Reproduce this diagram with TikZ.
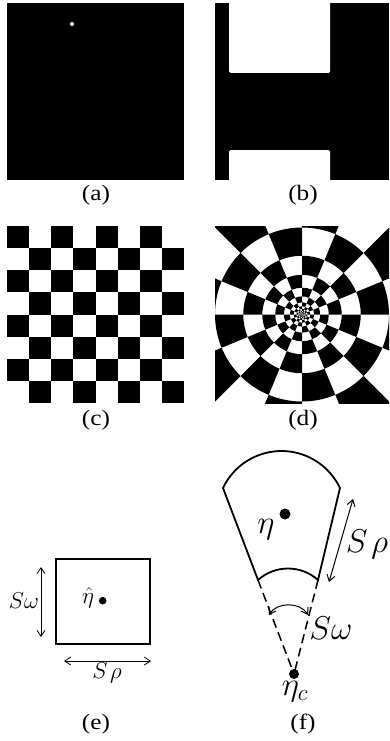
\RequirePackage{fix-cm}
\documentclass[tikz,border=0pt]{standalone}
\usepackage[no-math]{fontspec}
\setmainfont{Liberation Serif}
\usetikzlibrary{arrows.meta}
\newcommand{\widelab}[1]{\scalebox{1.15}[1]{#1}}
\begin{document}
\begin{tikzpicture}[x=1pt,y=1pt,
  lab/.style={inner sep=0pt,font=\fontsize{22}{25}\selectfont},
  mathE/.style={inner sep=0pt,font=\fontsize{23}{26}\selectfont},
  mathF/.style={inner sep=0pt,font=\fontsize{33}{36}\selectfont},
  dimarrow/.style={line width=0.8pt,{Straight Barb[length=6pt,width=8pt]}-{Straight Barb[length=6pt,width=8pt]}},
  solidF/.style={line width=1.8pt,line join=miter},
  dashF/.style={line width=1.5pt,dash pattern=on 9pt off 5pt}]
\useasboundingbox (0,0) rectangle (389,-741);

% (a)
\fill[black] (7,-3) rectangle (184,-180);
\fill[white] (72,-24) circle (2);
\node[lab] (la) at (96,-195.5) {\widelab{(a)}};

% (b)
\fill[black] (215,-3) rectangle (389,-180);
\fill[white,rounded corners=1.5pt] (229,0) rectangle (330,-73);
\fill[white,rounded corners=1.5pt] (229,-150) rectangle (330,-183);
\fill[white] (229,0) rectangle (330,-3);
\fill[white] (229,-180) rectangle (330,-183);
\node[lab] (lb) at (303,-195.5) {\widelab{(b)}};

% (c) checkerboard
\foreach \r in {0,...,7}{
  \foreach \c in {0,...,7}{
    \pgfmathtruncatemacro\parity{mod(\r+\c,2)}
    \ifnum\parity=0
      \fill[black] ({7+\c*22.125},{-226-\r*22.125}) rectangle ++(22.125,-22.125);
    \fi
  }
}
\node[lab] (lc) at (96,-420) {\widelab{(c)}};

% (d) log-polar checkerboard
\begin{scope}
\clip (215,-226) rectangle (389,-403);
\foreach \k in {-11,...,1}{
  \foreach \j in {0,...,15}{
    \pgfmathtruncatemacro\parity{mod(\k+\j+40,2)}
    \ifnum\parity=0
      \pgfmathsetmacro\ri{87*1.4810^(\k-1)}
      \pgfmathsetmacro\ro{87*1.4810^(\k)}
      \pgfmathsetmacro\a{\j*22.5}
      \pgfmathsetmacro\b{\j*22.5+22.5}
      \fill[black] ([shift={(\a:\ri)}]302,-314.5) arc[start angle=\a,end angle=\b,radius=\ri]
        -- ([shift={(\b:\ro)}]302,-314.5) arc[start angle=\b,end angle=\a,radius=\ro] -- cycle;
    \fi
  }
}
\fill[black!60] (302,-314.5) circle (1.5);
\end{scope}
\node[lab] (ld) at (303,-420) {\widelab{(d)}};

% (e)
\draw[line width=1.6pt] (56,-559) rectangle (150,-644);
\fill[black] (102.7,-600.7) circle (3.8) coordinate (etahat);
\node[mathE] (etahatlab) at (88,-598) {$\hat{\eta}$};
\coordinate (va) at (41,-567);
\coordinate (vb) at (41,-637);
\draw[dimarrow] (va) -- (vb);
\node[mathE] (swe) at (24,-601) {$S\omega$};
\coordinate (ha) at (64,-661);
\coordinate (hb) at (151,-661);
\draw[dimarrow] (ha) -- (hb);
\node[mathE] (sre) at (107,-673) {$S\mkern2mu\rho$};
\node[lab] (le) at (96,-724.5) {\widelab{(e)}};

% (f)
\coordinate (tl) at (223,-488);
\coordinate (tr) at (340,-488);
\coordinate (bl) at (258,-580);
\coordinate (br) at (318,-580);
\coordinate (etac) at (294,-674);
\draw[solidF] (bl) -- (tl) arc[start angle=154.6,end angle=25.4,radius=64.75] -- (br)
  arc[start angle=48.1,end angle=131.9,radius=44.9] -- cycle;
\draw[dashF] (bl) -- (etac);
\draw[dashF] (br) -- (etac);
\fill[black] (etac) circle (5);
\fill[black] (285,-514) circle (5.5) coordinate (eta);
\node[mathF] (etalab) at (266,-530) {$\eta$};
\node[mathF] (etaclab) at (295,-692) {$\eta_c$};
\coordinate (ra) at (353,-499);
\coordinate (rb) at (329,-582);
\draw[dimarrow,line width=1pt] (ra) -- (rb);
\node[mathF] (srf) at (367,-544) {$S\mkern2mu\rho$};
\coordinate (wa) at (269,-615);
\coordinate (wb) at (308,-615);
\draw[dimarrow,line width=1pt] (wa) to[bend left=60] (wb);
\node[mathF] (swf) at (331,-628) {$S\omega$};
\node[lab] (lf) at (303,-724.5) {\widelab{(f)}};
\end{tikzpicture}
\end{document}
